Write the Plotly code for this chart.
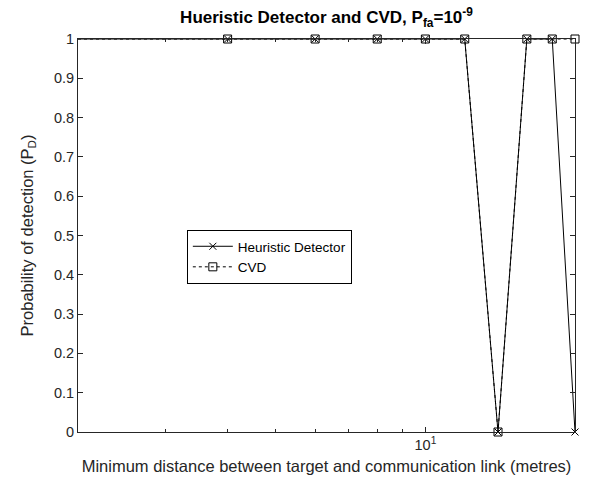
import plotly.graph_objects as go

distance = [2, 4, 6, 8, 10, 12, 14, 16, 18, 20]
heuristic_pd = [1, 1, 1, 1, 1, 1, 0, 1, 1, 0]
cvd_pd = [1, 1, 1, 1, 1, 1, 0, 1, 1, 1]
y_ticks = [0, 0.1, 0.2, 0.3, 0.4, 0.5, 0.6, 0.7, 0.8, 0.9, 1]
y_ticktext = ["0", "0.1", "0.2", "0.3", "0.4", "0.5", "0.6", "0.7", "0.8", "0.9", "1"]

fig = go.Figure()
fig.add_trace(go.Scatter(
    x=distance, y=heuristic_pd, name="Heuristic Detector",
    mode="lines+markers", cliponaxis=False,
    line=dict(color="black", width=1),
    marker=dict(symbol="x-thin", size=7, color="black", line=dict(color="black", width=1)),
))
fig.add_trace(go.Scatter(
    x=distance, y=cvd_pd, name="CVD",
    mode="lines+markers", cliponaxis=False,
    line=dict(color="black", width=1, dash="dot"),
    marker=dict(symbol="square-open", size=8, color="black", line=dict(color="black", width=1)),
))

ff = "Liberation Sans, Arial, sans-serif"
font = dict(family=ff, size=14.5, color="#262626")

fig.update_layout(
    width=595, height=485,
    margin=dict(l=78, r=20, t=39, b=53),
    paper_bgcolor="white", plot_bgcolor="white",
    font=font,
    title=dict(
        text="<b>Hueristic Detector and CVD, P<sub>fa</sub>=10<sup>-9</sup></b>",
        x=0.5, xref="paper", xanchor="center", yref="container", y=1 - 17 / 485, yanchor="middle",
        font=dict(family=ff, size=17, color="black"),
    ),
    legend=dict(
        x=0.219, y=0.514, xanchor="left", yanchor="top",
        bgcolor="white", bordercolor="black", borderwidth=1,
        font=dict(family=ff, size=13.5, color="black"),
        tracegroupgap=0, itemwidth=40,
    ),
    showlegend=True,
)

fig.update_xaxes(
    type="log", range=[0.30103, 1.30103],
    tickvals=[10], ticktext=["10<sup>1</sup>"],
    ticks="inside", ticklen=5, tickcolor="#262626",
    minor=dict(ticks="inside", ticklen=3, tickcolor="#262626",
               tickvals=[2, 3, 4, 5, 6, 7, 8, 9, 20], showgrid=False),
    showline=True, linecolor="#262626", linewidth=1, mirror="ticks",
    showgrid=False, zeroline=False,
    title=dict(text="Minimum distance between target and communication link (metres)", standoff=8,
               font=dict(size=16.5)),
)
fig.update_yaxes(
    range=[0, 1], tickvals=y_ticks, ticktext=y_ticktext,
    ticks="inside", ticklen=5, tickcolor="#262626",
    showline=True, linecolor="#262626", linewidth=1, mirror="ticks",
    showgrid=False, zeroline=False,
    title=dict(text="Probability of detection (P<sub>D</sub>)", standoff=16, font=dict(size=16.5)),
)

fig.write_html("out.html")
